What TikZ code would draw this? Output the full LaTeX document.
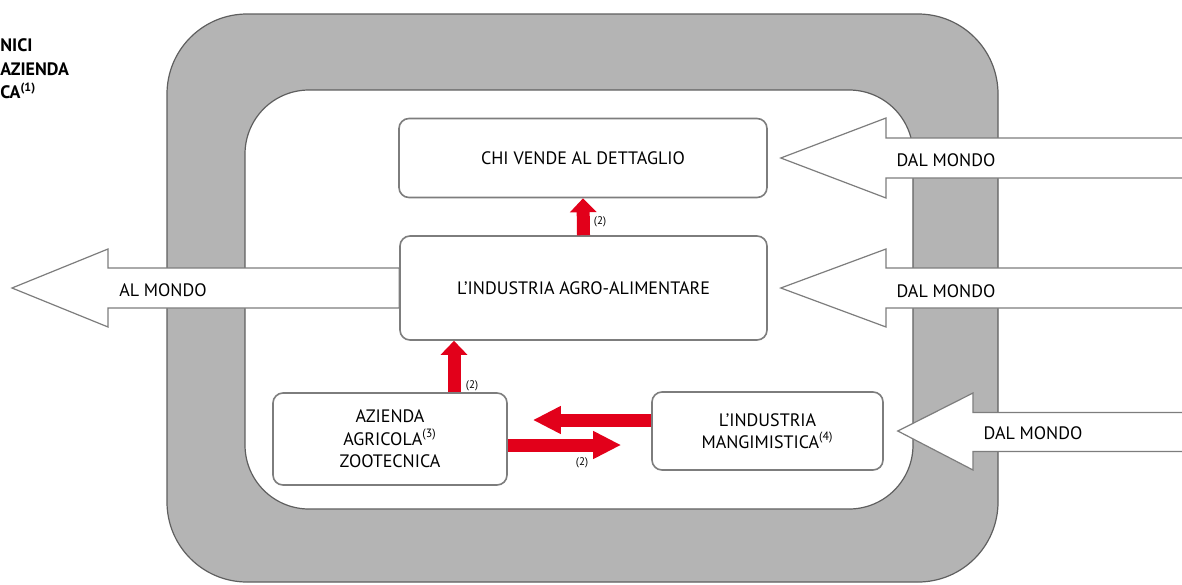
\documentclass[tikz,border=0pt]{standalone}
\usepackage{fontspec}
\setmainfont{PT Sans}
\usepackage{tikz}
\usetikzlibrary{positioning}
\usetikzlibrary{arrows.meta,calc}

\definecolor{bandgray}{RGB}{180,180,180}
\definecolor{linegray}{RGB}{95,95,95}
\definecolor{boxgray}{RGB}{125,125,125}
\definecolor{flowred}{RGB}{226,0,26}

\tikzset{
    box/.style={draw=boxgray, line width=0.8pt, rounded corners=5pt, fill=white,
        align=center, inner sep=0pt, font=\fontsize{9}{11.2}\selectfont},
    bigarrow/.style={draw=boxgray, line width=0.6pt, fill=white},
    redarrow/.style={draw=flowred, line width=6.5pt, -{Triangle[width=13pt,length=7pt]}},
    longhead/.style={-{Triangle[width=13pt,length=14pt]}},
    lbl/.style={font=\fontsize{9}{11}\selectfont, inner sep=0pt},
    note/.style={font=\fontsize{5.5}{6}\selectfont, inner sep=0pt},
}

\begin{document}
\begin{tikzpicture}[x=0.5pt, y=-0.5pt]
    \useasboundingbox (0,0) rectangle (1182,584);

    % the two rings
    \draw[fill=bandgray, draw=linegray, line width=0.6pt, rounded corners=40pt] (167,14) rectangle (998,582);
    \draw[fill=white, draw=linegray, line width=0.6pt, rounded corners=32pt] (245,90) rectangle (913,509);

    \node (legend) at (0,69) [anchor=west, align=left, inner sep=0pt,
        font=\bfseries\fontsize{9}{11.75}\selectfont] {NICI\\AZIENDA\\CA\textsuperscript{(1)}};

    \node (chi)     at (583,158)   [box, minimum width=184pt, minimum height=39.5pt] {CHI VENDE AL DETTAGLIO};
    \node (agro)    at (583.5,288) [box, minimum width=183.5pt, minimum height=52pt] {L’INDUSTRIA AGRO-ALIMENTARE};
    \node (azienda) at (390,439)   [box, minimum width=117pt, minimum height=46pt] {AZIENDA\\AGRICOLA\textsuperscript{(3)}\\ZOOTECNICA};
    \node (mangime) at (767.5,431) [box, minimum width=115.5pt, minimum height=39pt] {L’INDUSTRIA\\MANGIMISTICA\textsuperscript{(4)}};

    \coordinate (worldW) at (12,288);
    \coordinate (worldE1) at (1200,158);
    \coordinate (worldE2) at (1200,288);
    \coordinate (worldE3) at (1200,432);

    % block arrows to and from the world
    \draw[bigarrow] ($(agro.west)+(0,-20)$) -- (108,268) -- (108,249) -- (worldW)
        -- (108,327) -- (108,308) -- ($(agro.west)+(0,20)$) -- cycle;
    \draw[bigarrow] ($(worldE1)+(0,-20)$) -- (886,138) -- (886,118) -- ($(chi.east)+(13,0)$)
        -- (886,198) -- (886,178) -- ($(worldE1)+(0,20)$) -- cycle;
    \draw[bigarrow] ($(worldE2)+(0,-20)$) -- (886,268) -- (886,249) -- ($(agro.east)+(13,0)$)
        -- (886,327) -- (886,308) -- ($(worldE2)+(0,20)$) -- cycle;
    \draw[bigarrow] ($(worldE3)+(0,-19.5)$) -- (973,412.5) -- (973,393) -- ($(mangime.east)+(14,0)$)
        -- (973,470) -- (973,451.5) -- ($(worldE3)+(0,19.5)$) -- cycle;
    \node (alm)  at (163,290)  [lbl] {AL MONDO};
    \node (dal1) at (946,160)  [lbl] {DAL MONDO};
    \node (dal2) at (946,291)  [lbl] {DAL MONDO};
    \node (dal3) at (1033,433) [lbl] {DAL MONDO};

    % red flows
    \draw[redarrow] (agro.north) -- (chi.south);
    \coordinate (up1) at ($(azienda.north)+(64,0)$);
    \draw[redarrow] (up1) -- (up1 |- agro.south);
    \coordinate (back1) at ($(mangime.west)+(0,-11)$);
    \draw[redarrow, longhead] (back1) -- ($(back1 -| azienda.east)+(25,0)$);
    \coordinate (feed1) at ($(azienda.east)+(0,6)$);
    \draw[redarrow, longhead] (feed1) -- ($(feed1 -| mangime.west)+(-30,0)$);

    \node (n1) at (600,222) [note] {(2)};
    \node (n2) at (472,386) [note] {(2)};
    \node (n3) at (582,463) [note] {(2)};
\end{tikzpicture}
\end{document}
